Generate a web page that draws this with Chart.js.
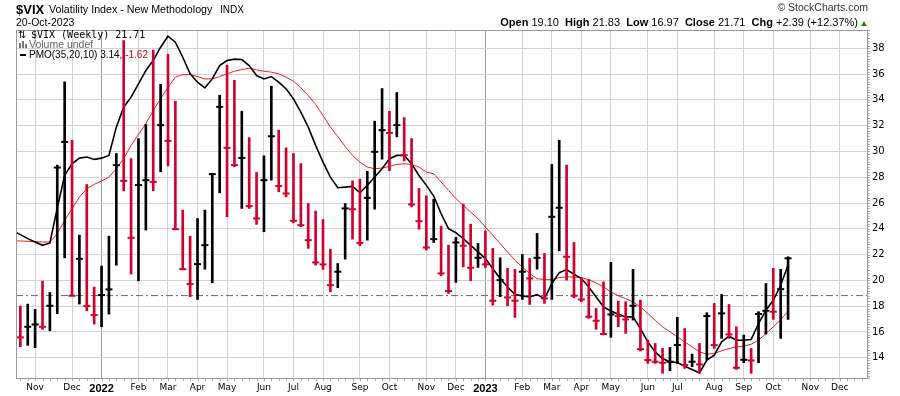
<!DOCTYPE html>
<html><head><meta charset="utf-8">
<script src="https://cdn.jsdelivr.net/npm/chart.js@4.4.0/dist/chart.umd.min.js"></script>
<style>
html,body{margin:0;padding:0;background:#fff;}
#wrap{position:relative;width:900px;height:396px;overflow:hidden;background:#fff;}
canvas{position:absolute;left:0;top:0;}
.t{position:absolute;white-space:nowrap;line-height:1;font-family:"Liberation Sans",Arial,sans-serif;color:#000;}
.b{font-weight:bold;}
</style></head><body>
<div id="wrap">
<canvas id="c" width="900" height="396"></canvas>
<div class="t b" style="left:16px;top:3px;font-size:13px;">$VIX</div>
<div class="t" style="left:49px;top:4px;font-size:10.7px;">Volatility Index - New Methodology</div>
<div class="t" style="left:220px;top:5px;font-size:10px;">INDX</div>
<div class="t" style="left:16px;top:17px;font-size:10.5px;">20-Oct-2023</div>
<div class="t" style="right:32px;top:2px;font-size:10.5px;color:#333;">© StockCharts.com</div>
<div class="t" style="right:42px;top:17px;font-size:11px;"><span class="b">Open</span> 19.10&nbsp; <span class="b">High</span> 21.83&nbsp; <span class="b">Low</span> 16.97&nbsp; <span class="b">Close</span> 21.71&nbsp; <span class="b">Chg</span> +2.39 (+12.37%)</div>
<div style="position:absolute;left:861px;top:21px;width:0;height:0;border-left:3px solid transparent;border-right:3px solid transparent;border-bottom:5px solid #1a8a1a;"></div>
<div class="t" style="left:18px;top:30px;font-size:10px;font-family:'DejaVu Sans';">⇅</div>
<div class="t" style="left:31px;top:30px;font-size:10px;font-family:'DejaVu Sans Mono';">$VIX (Weekly) 21.71</div>
<div style="position:absolute;left:19px;top:43px;width:2px;height:5px;background:#777;"></div>
<div style="position:absolute;left:22px;top:41px;width:2px;height:7px;background:#777;"></div>
<div style="position:absolute;left:25px;top:44px;width:2px;height:4px;background:#777;"></div>
<div class="t" style="left:29px;top:39px;font-size:10.5px;color:#666;">Volume undef</div>
<div style="position:absolute;left:20px;top:54px;width:6px;height:2px;background:#000;"></div>
<div class="t" style="left:29px;top:49.5px;font-size:10px;">PMO(35,20,10) 3.14, <span style="color:#e00000">-1.62</span></div>
</div>
<script>
// ---- data ----
const firstWeekEnding = '2021-10-22';
const prevClose = 16.30; // close of the week before the first bar
const high = [18.01,18.16,17.75,19.94,19.06,28.94,35.40,30.87,23.51,27.44,
 19.48,21.11,23.43,29.84,38.60,29.45,31.00,32.09,37.85,35.21,
 37.54,33.90,25.45,23.43,24.80,25.45,28.30,34.36,36.69,35.52,
 33.12,31.08,28.37,29.66,35.06,31.65,30.28,29.84,29.06,25.96,
 25.37,24.72,22.42,21.31,25.96,27.72,27.85,28.47,32.35,34.88,
 33.12,34.57,32.63,31.00,27.13,26.56,26.30,24.21,22.73,23.33,
 25.91,24.36,22.86,23.82,22.48,21.75,20.93,20.85,22.01,21.70,
 23.64,22.09,28.99,30.87,28.94,22.94,20.20,20.07,17.82,19.89,
 21.39,18.39,18.34,20.85,18.47,15.37,15.11,14.72,14.80,17.13,
 16.27,14.28,15.11,17.49,18.21,18.91,18.13,16.40,15.76,14.72,
 17.57,19.76,20.93,20.85,21.83];
const low = [14.85,14.96,14.78,16.20,16.09,17.41,21.75,18.81,18.16,17.64,
 16.61,16.40,17.39,21.18,26.95,20.49,19.97,23.90,26.95,28.42,
 28.88,23.97,20.87,18.73,18.52,20.87,19.81,26.79,24.93,28.81,
 25.58,25.58,24.34,23.77,27.77,26.87,26.48,24.47,24.16,22.48,
 21.18,20.85,19.12,19.43,21.65,23.20,22.68,23.12,25.52,29.40,
 28.50,31.13,29.27,25.71,23.97,22.35,22.94,20.36,18.99,19.84,
 21.05,19.97,21.00,21.00,18.08,18.73,18.03,17.13,18.52,18.13,
 20.87,18.21,18.52,22.29,20.02,18.65,18.34,17.05,16.20,15.81,
 15.58,16.40,15.89,16.92,14.52,13.56,13.56,12.79,12.99,13.56,
 13.17,13.30,12.79,13.82,14.72,15.50,15.50,13.10,13.61,12.79,
 13.61,15.83,16.97,15.50,16.97];
const close = [15.58,16.40,16.58,16.40,18.03,28.75,30.74,18.81,21.67,18.01,
 17.31,18.86,19.30,28.94,27.72,23.30,27.39,27.77,27.64,32.04,
 30.82,23.97,20.87,19.71,21.26,22.73,28.24,33.46,30.28,28.94,
 29.50,25.76,24.80,27.77,31.18,27.31,26.74,24.62,24.28,23.12,
 21.39,21.24,19.63,20.67,25.58,25.52,22.91,26.40,29.97,31.65,
 31.44,32.04,29.71,25.89,24.59,22.55,23.20,20.54,19.17,22.94,
 22.68,20.98,21.75,21.24,18.42,20.02,18.68,18.42,20.67,20.15,
 21.75,18.60,24.93,25.63,21.83,18.81,18.52,17.18,16.87,15.83,
 17.36,17.23,16.97,18.03,14.67,13.82,13.69,13.61,13.69,14.98,
 13.43,13.69,13.48,17.23,14.98,17.44,15.81,13.22,13.84,13.79,
 17.39,17.64,17.57,19.32,21.71];
// PMO(35,20,10) and its signal line; first value belongs to the week before the first bar
const pmoStart = -1;
const pmo = [6.68,
 6.27,5.86,5.51,5.17,5.41,9.00,12.36,13.56,14.14,14.25,
 14.01,14.14,14.42,17.33,19.38,20.41,21.78,23.15,24.18,25.55,
 26.68,26.06,24.52,22.81,21.95,21.37,22.29,23.66,24.18,24.32,
 24.28,23.66,22.64,22.29,22.53,21.95,21.27,20.24,18.87,17.33,
 15.45,13.73,12.19,11.10,11.16,11.23,10.58,11.34,12.19,13.05,
 14.08,14.42,14.42,13.56,12.36,11.34,10.24,8.42,6.88,6.47,
 5.86,5.17,4.49,3.80,2.77,1.75,0.89,0.10,-0.03,-0.14,
 0.10,-0.31,1.23,2.36,2.67,2.19,1.75,0.89,-0.14,-1.16,
 -1.58,-1.92,-2.19,-2.19,-3.39,-4.76,-5.79,-6.47,-6.82,-6.88,
 -7.26,-7.60,-7.95,-6.64,-6.13,-4.76,-4.18,-4.59,-4.59,-4.52,
 -2.88,-1.51,-0.48,1.06,3.14];
const pmoSignal = [5.62,
 5.62,5.58,5.55,5.51,5.51,6.37,7.74,8.94,10.14,10.99,
 11.44,11.78,12.19,13.05,14.08,15.45,16.58,17.67,19.04,20.24,
 21.44,22.47,22.74,22.74,22.53,22.29,22.29,22.53,22.81,23.08,
 23.25,23.39,23.22,23.08,22.98,22.81,22.47,22.05,21.37,20.58,
 19.66,18.53,17.33,16.37,15.34,14.42,13.73,13.22,13.05,13.12,
 13.29,13.49,13.56,13.49,13.22,12.71,12.53,11.68,10.82,9.97,
 9.28,8.60,7.91,7.05,6.20,5.34,4.49,3.63,2.95,2.26,
 1.75,1.64,1.64,1.85,1.92,1.92,1.85,1.64,1.30,0.89,
 0.38,-0.03,-0.31,-0.65,-1.16,-1.85,-2.53,-3.22,-3.73,-4.25,
 -4.76,-5.27,-5.79,-6.03,-5.96,-5.68,-5.45,-5.27,-5.21,-5.00,
 -4.59,-3.90,-3.22,-2.47,-1.62];
const yTicks = [14,16,18,20,22,24,26,28,30,32,34,36,38];
const monthLabels = ['Nov','Dec','2022','Feb','Mar','Apr','May','Jun','Jul','Aug','Sep','Oct','Nov','Dec',
 '2023','Feb','Mar','Apr','May','Jun','Jul','Aug','Sep','Oct','Nov','Dec'];
const monthTickWeek = [2,7,11,16,20,24,28,33,37,41,46,50,55,59,63,68,72,76,80,85,89,94,98,102,107,111];

// ---- axis ranges ----
const xMin = -0.59, xMax = 114.83;
const yMin = 12.35, yMax = 39.42;
const pMin = -8.58, pMax = 27.32;

const weeks = close.map((_, i) => {
  const d = new Date(firstWeekEnding + 'T00:00:00Z');
  d.setUTCDate(d.getUTCDate() + 7 * i);
  return d.toISOString().slice(0, 10);
});
const RED = '#d2002e', BLACK = '#000000';
const barColor = close.map((c, i) => c >= (i === 0 ? prevClose : close[i - 1]) ? BLACK : RED);
const isYear = i => /^\d{4}$/.test(monthLabels[i] || '');

const frame = {
  id: 'frame',
  afterDraw(chart) {
    const {ctx, chartArea: a, scales} = chart;
    ctx.save();
    ctx.fillStyle = '#b0b0b0';
    const b = Math.round(a.bottom);
    for (let w = Math.ceil(xMin); w <= Math.floor(xMax); w++) {
      const px = Math.round(scales.x.getPixelForValue(w));
      ctx.fillRect(px, b, 1, 2);
    }
    const r = Math.round(a.right);
    for (let v = Math.ceil(yMin * 5) / 5; v <= yMax; v += 0.2) {
      const py = Math.round(scales.y.getPixelForValue(v));
      ctx.fillRect(r, py, 2, 1);
    }
    ctx.strokeStyle = '#9a9a9a';
    ctx.lineWidth = 1;
    ctx.strokeRect(Math.round(a.left) + 0.5, Math.round(a.top) + 0.5,
      Math.round(a.right - a.left) - 1, Math.round(a.bottom - a.top) - 1);
    ctx.restore();
  }
};

new Chart(document.getElementById('c'), {
  type: 'bar',
  data: {
    datasets: [
      { type: 'bar', label: '$VIX range', data: close.map((_, i) => ({x: i, y: [low[i], high[i]]})),
        backgroundColor: barColor, barThickness: 2, borderWidth: 0, borderSkipped: false,
        xAxisID: 'x', yAxisID: 'y', order: 1 },
      { type: 'scatter', label: '$VIX close', data: close.map((c, i) => ({x: i, y: c})),
        pointStyle: 'line', pointRadius: 3.5, pointBorderWidth: 2, pointBorderColor: barColor,
        pointBackgroundColor: barColor, showLine: false, xAxisID: 'x', yAxisID: 'y', order: 0 },
      { type: 'line', label: 'PMO', data: pmo.map((v, i) => ({x: i + pmoStart, y: v})),
        borderColor: '#000', borderWidth: 1.6, pointRadius: 0, tension: 0,
        xAxisID: 'x', yAxisID: 'p', order: 2 },
      { type: 'line', label: 'Signal', data: pmoSignal.map((v, i) => ({x: i + pmoStart, y: v})),
        borderColor: '#ff1a1a', borderWidth: 1, pointRadius: 0, tension: 0,
        xAxisID: 'x', yAxisID: 'p', order: 3 },
      { type: 'line', label: 'zero', data: [{x: xMin, y: 0}, {x: xMax, y: 0}],
        borderColor: '#6a6a6a', borderWidth: 1, borderDash: [7, 3, 2, 3], pointRadius: 0,
        xAxisID: 'x', yAxisID: 'p', order: 4 }
    ]
  },
  options: {
    responsive: false, animation: false, devicePixelRatio: 1,
    layout: {padding: {left: 16, top: 30, right: 0, bottom: 0}},
    plugins: {legend: {display: false}, tooltip: {enabled: false}},
    scales: {
      x: {
        type: 'linear', position: 'bottom', min: xMin, max: xMax, offset: false,
        afterFit(s) { s.height = 17; },
        afterBuildTicks(s) { s.ticks = monthTickWeek.map(v => ({value: v})); },
        ticks: {
          autoSkip: false, maxRotation: 0, minRotation: 0, padding: 3, color: '#000',
          callback: (v, i) => monthLabels[i],
          font: c => isYear(c.index) ? {family: 'Liberation Sans', size: 11, weight: 'bold'}
                                     : {family: 'DejaVu Sans', size: 9}
        },
        grid: {drawTicks: false, offset: false, lineWidth: 1,
          color: c => isYear(c.index) ? '#9a9a9a' : '#d2d2d2'},
        border: {display: false}
      },
      y: {
        type: 'linear', position: 'right', min: yMin, max: yMax,
        afterFit(s) { s.width = 32; },
        afterBuildTicks(s) { s.ticks = yTicks.map(v => ({value: v})); },
        ticks: {padding: 4, color: '#000', font: {family: 'DejaVu Sans', size: 10}, callback: v => String(v)},
        grid: {drawTicks: false, color: '#d2d2d2', lineWidth: 1},
        border: {display: false}
      },
      p: {type: 'linear', display: false, min: pMin, max: pMax}
    }
  },
  plugins: [frame]
});
</script>
</body></html>
